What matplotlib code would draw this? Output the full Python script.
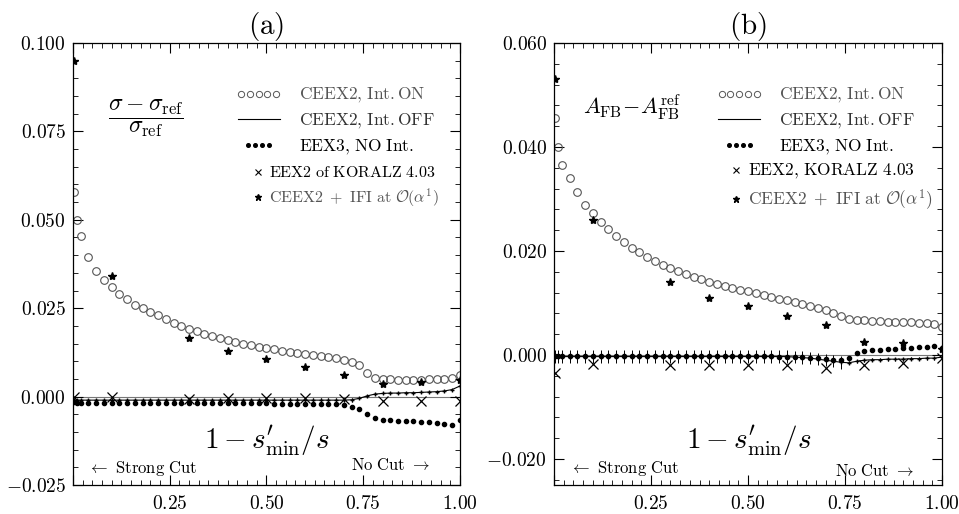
"""Two-panel comparison: cross-section and A_FB deviations vs 1 - s'_min/s."""
import matplotlib
matplotlib.use("Agg")
import matplotlib.pyplot as plt
from matplotlib.lines import Line2D
from matplotlib.legend_handler import HandlerLine2D
from matplotlib.ticker import MultipleLocator, FuncFormatter

plt.rcParams["mathtext.fontset"] = "cm"
plt.rcParams["font.family"] = "serif"
plt.rcParams["axes.unicode_minus"] = False

# ---- data ----------------------------------------------------------------
X_DENSE = [0.003, 0.01, 0.02, 0.04, 0.06, 0.08, 0.10, 0.12, 0.14, 0.16,
           0.18, 0.20, 0.22, 0.24, 0.26, 0.28, 0.30, 0.32, 0.34, 0.36,
           0.38, 0.40, 0.42, 0.44, 0.46, 0.48, 0.50, 0.52, 0.54, 0.56,
           0.58, 0.60, 0.62, 0.64, 0.66, 0.68, 0.70, 0.72, 0.74, 0.76,
           0.78, 0.80, 0.82, 0.84, 0.86, 0.88, 0.90, 0.92, 0.94, 0.96,
           0.98, 1.00]
X_SPARSE = [0.003, 0.10, 0.30, 0.40, 0.50, 0.60, 0.70, 0.80, 0.90, 1.00]

# panel (a): (sigma - sigma_ref) / sigma_ref
A_ON = [0.058, 0.050, 0.0455, 0.0395, 0.0355, 0.033, 0.031, 0.029, 0.0275, 0.026,
        0.025, 0.024, 0.0230, 0.0219, 0.0209, 0.0200, 0.0192, 0.0185, 0.0178, 0.0172,
        0.0166, 0.0160, 0.0155, 0.0150, 0.0146, 0.0141, 0.0137, 0.0134, 0.0130, 0.0127,
        0.0124, 0.0121, 0.0118, 0.0115, 0.0112, 0.0108, 0.0104, 0.0099, 0.0090, 0.0068,
        0.0054, 0.0050, 0.0049, 0.0048, 0.0048, 0.0048, 0.0048, 0.0049, 0.0049, 0.0050,
        0.0052, 0.0060]
A_OFF = [-0.0010] * 37 + [-0.0009, -0.0005, 0.0002, 0.0007, 0.0009, 0.0010, 0.0010,
                          0.0011, 0.0011, 0.0012, 0.0013, 0.0014, 0.0016, 0.0020, 0.0030]
A_OFF_ERR = [0.0002] * 26 + [0.0006] * 12 + [0.0002] * 14
A_EEX3 = ([-0.0015] + [-0.0017] * 16 + [-0.0018] * 10 + [-0.0020] * 8
          + [-0.0022, -0.0024, -0.0028, -0.0035, -0.0050, -0.0060, -0.0065, -0.0067,
             -0.0068, -0.0069, -0.0070, -0.0071, -0.0073, -0.0075, -0.0077, -0.0080, -0.0067])
A_KZ = [0.0, 0.0, -0.0008, -0.0005, -0.0005, -0.0005, -0.0008, -0.0011, -0.0011, -0.0011]
A_STAR = [0.095, 0.034, 0.0165, 0.013, 0.0105, 0.0085, 0.006, 0.0035, 0.004, 0.0048]

# panel (b): A_FB - A_FB^ref
B_ON = [0.0456, 0.040, 0.0365, 0.034, 0.0313, 0.0288, 0.0273, 0.0256, 0.0242, 0.0229,
        0.0217, 0.0206, 0.0198, 0.0188, 0.0181, 0.0173, 0.0167, 0.0162, 0.0156, 0.0150,
        0.0146, 0.0140, 0.0137, 0.0133, 0.0129, 0.0125, 0.0123, 0.0119, 0.0115, 0.0112,
        0.0108, 0.0106, 0.0102, 0.0098, 0.0094, 0.0090, 0.0087, 0.0081, 0.0075, 0.0069,
        0.0067, 0.0067, 0.0065, 0.0065, 0.0064, 0.0064, 0.0063, 0.0063, 0.0062, 0.0061,
        0.0059, 0.0054]
B_OFF = [-0.0003] * 31 + [-0.0003, -0.0004, -0.0005, -0.0006, -0.0008, -0.0010, -0.0012,
                          -0.0014, -0.0015, -0.0012, -0.0010, -0.0009, -0.0009, -0.0008,
                          -0.0008, -0.0008, -0.0007, -0.0007, -0.0006, -0.0006, -0.0004]
B_OFF_ERR = [0.0012] * 39 + [0.0003] * 13
B_EEX3 = ([-0.0002] * 30
          + [-0.0003, -0.0003, -0.0004, -0.0004, -0.0005, -0.0006, -0.0008, -0.0009,
             -0.0010, -0.0005, 0.0003, 0.0007, 0.0009, 0.0010, 0.0011, 0.0012, 0.0013,
             0.0014, 0.0015, 0.0016, 0.0017, 0.0013])
B_KZ = [-0.0035, -0.0018, -0.0020, -0.0020, -0.0020, -0.0020, -0.0025, -0.0020, -0.0015, -0.0005]
B_STAR = [0.053, 0.026, 0.014, 0.011, 0.0095, 0.0075, 0.0058, 0.0025, 0.0024, 0.0012]

LABELS_A = [r"$\mathrm{CEEX2{,}\ Int.ON}$", r"$\mathrm{CEEX2{,}\ Int.OFF}$",
            r"$\mathrm{EEX3{,}\ NO\ Int.}$", r"$\mathrm{EEX2\ of\ KORALZ\ 4.03}$",
            r"$\mathrm{CEEX2\ +\ IFI\ at\ }\mathcal{O}(\alpha^1)$"]
LABELS_B = [r"$\mathrm{CEEX2{,}\ Int.ON}$", r"$\mathrm{CEEX2{,}\ Int.OFF}$",
            r"$\mathrm{EEX3{,}\ NO\ Int.}$", r"$\mathrm{EEX2{,}\ KORALZ\ 4.03}$",
            r"$\mathrm{CEEX2\ +\ IFI\ at\ }\mathcal{O}(\alpha^1)$"]

GREY = "#555555"


def draw_panel(ax, on, off, off_err, eex3, kz, star, ylim, ymajor, yminor,
               labels, title, formula, formula_xy, formula_size,
               leg1_xy, leg2_xy, leg2_size, label_x, nocut_xy):
    ax.axhline(0.0, color="#777777", linewidth=0.8, zorder=1)
    ax.errorbar(X_DENSE, off, yerr=off_err, color="black", linewidth=0.8,
                marker="+", markersize=3, elinewidth=0.7, capsize=0, zorder=3)
    ax.plot(X_DENSE, eex3, linestyle="none", marker="o", markersize=3,
            color="black", zorder=4)
    ax.plot(X_DENSE, on, linestyle="none", marker="o", markersize=5.5,
            markerfacecolor="none", markeredgecolor=GREY, markeredgewidth=0.8, zorder=2)
    ax.plot(X_SPARSE, kz, linestyle="none", marker="x", markersize=7,
            color="black", markeredgewidth=0.9, zorder=5)
    ax.plot(X_SPARSE, star, linestyle="none", marker="*", markersize=6,
            color="black", zorder=5)

    ax.set_xlim(0, 1)
    ax.set_ylim(*ylim)
    ax.xaxis.set_major_locator(MultipleLocator(0.25))
    ax.xaxis.set_minor_locator(MultipleLocator(0.025))
    ax.yaxis.set_major_locator(MultipleLocator(ymajor))
    ax.yaxis.set_minor_locator(MultipleLocator(yminor))
    ax.xaxis.set_major_formatter(FuncFormatter(
        lambda v, _: "" if v < 0.01 else f"${v:.2f}$"))
    ax.yaxis.set_major_formatter(FuncFormatter(lambda v, _: f"${v:.3f}$"))
    ax.tick_params(which="both", direction="in", top=True, right=True, labelsize=14)
    ax.tick_params(which="major", length=7, width=0.8)
    ax.tick_params(which="minor", length=3.5, width=0.6)
    ax.tick_params(axis="x", pad=7)
    ax.tick_params(axis="y", pad=5)
    for side in ax.spines.values():
        side.set_linewidth(0.9)

    ax.set_title(title, fontsize=21, pad=6)
    ax.text(*formula_xy, formula, transform=ax.transAxes, fontsize=formula_size,
            ha="center", va="center")
    ax.text(label_x, 0.10, r"$1-s^{\prime}_{\rm min}/s$", transform=ax.transAxes,
            fontsize=21, ha="center", va="center")
    ax.text(0.04, 0.038, r"$\leftarrow\mathrm{\ Strong\ Cut}$", transform=ax.transAxes,
            fontsize=12, ha="left", va="center")
    ax.text(*nocut_xy, r"$\mathrm{No\ Cut\ }\rightarrow$", transform=ax.transAxes,
            fontsize=12, ha="right", va="center")

    h_on = Line2D([], [], linestyle="none", marker="o", markersize=4.5,
                  markerfacecolor="none", markeredgecolor=GREY, markeredgewidth=0.7)
    h_off = Line2D([], [], color="black", linewidth=0.8)
    h_eex3 = Line2D([], [], linestyle="none", marker="o", markersize=2.6, color="black")
    leg1 = ax.legend([h_on, h_off, h_eex3], labels[:3], loc="upper left",
                     bbox_to_anchor=leg1_xy, frameon=False, fontsize=12.5,
                     handlelength=3.0, handletextpad=0.8, labelspacing=0.38,
                     borderpad=0, borderaxespad=0,
                     handler_map={h_on: HandlerLine2D(numpoints=5, marker_pad=0.5),
                                  h_eex3: HandlerLine2D(numpoints=4, marker_pad=0.9),
                                  h_off: HandlerLine2D(numpoints=2)})
    for text, colour in zip(leg1.get_texts(), [GREY, "#333333", "black"]):
        text.set_color(colour)
    ax.add_artist(leg1)

    h_kz = Line2D([], [], linestyle="none", marker="x", markersize=5,
                  color="black", markeredgewidth=0.8)
    h_star = Line2D([], [], linestyle="none", marker="*", markersize=5, color="black")
    leg2 = ax.legend([h_kz, h_star], labels[3:], loc="upper left",
                     bbox_to_anchor=leg2_xy, frameon=False, fontsize=leg2_size,
                     handlelength=0.8, handletextpad=0.3, labelspacing=0.35,
                     borderpad=0, borderaxespad=0, numpoints=1)
    for text, colour in zip(leg2.get_texts(), ["black", GREY]):
        text.set_color(colour)


fig = plt.figure(figsize=(9.59, 5.14), dpi=100)
ax_a = fig.add_axes([0.076, 0.0564, 0.4036, 0.8599])
ax_b = fig.add_axes([0.5777, 0.0564, 0.4046, 0.8599])

draw_panel(ax_a, A_ON, A_OFF, A_OFF_ERR, A_EEX3, A_KZ, A_STAR,
           ylim=(-0.025, 0.100), ymajor=0.025, yminor=0.005, labels=LABELS_A,
           title=r"$\mathrm{(a)}$",
           formula=r"$\dfrac{\sigma-\sigma_{\rm ref}}{\sigma_{\rm ref}}$",
           formula_xy=(0.19, 0.83), formula_size=17,
           leg1_xy=(0.413, 0.902), leg2_xy=(0.462, 0.726), leg2_size=11.5,
           label_x=0.50, nocut_xy=(0.922, 0.045))
draw_panel(ax_b, B_ON, B_OFF, B_OFF_ERR, B_EEX3, B_KZ, B_STAR,
           ylim=(-0.025, 0.060), ymajor=0.020, yminor=0.004, labels=LABELS_B,
           title=r"$\mathrm{(b)}$",
           formula=r"$A_{\rm FB}\!-\!A_{\rm FB}^{\rm ref}$",
           formula_xy=(0.20, 0.855), formula_size=16,
           leg1_xy=(0.41, 0.902), leg2_xy=(0.45, 0.73), leg2_size=12.5,
           label_x=0.503, nocut_xy=(0.928, 0.03))

fig.savefig("out.png", dpi=100)
